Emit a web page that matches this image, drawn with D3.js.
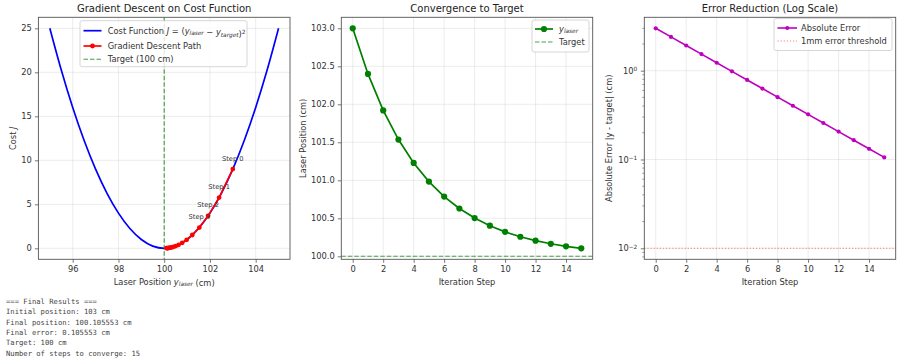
<!DOCTYPE html>
<html><head><meta charset="utf-8">
<script src="https://cdn.jsdelivr.net/npm/d3@7"></script>
<style>body{margin:0;background:#fff;} svg{display:block;font-family:"DejaVu Sans",sans-serif;}</style>
</head><body>
<svg id="c" width="900" height="360"></svg>
<script>
// ---------- data ----------
const steps = [0,1,2,3,4,5,6,7,8,9,10,11,12,13,14,15];
const positions = [103, 102.4, 101.92, 101.536, 101.2288, 100.98304, 100.786432, 100.629146, 100.503316, 100.402653, 100.322123, 100.257698, 100.206158, 100.164927, 100.131941, 100.105553];
const errors = [3, 2.4, 1.92, 1.536, 1.2288, 0.98304, 0.786432, 0.629146, 0.503316, 0.402653, 0.322123, 0.257698, 0.206158, 0.164927, 0.131941, 0.105553];
const pathCost = [9, 5.76, 3.6864, 2.359296, 1.50995, 0.966368, 0.618475, 0.395824, 0.253327, 0.16213, 0.103763, 0.066408, 0.042501, 0.027201, 0.017408, 0.011141];
const curveX = [95,95.5,96,96.5,97,97.5,98,98.5,99,99.5,100,100.5,101,101.5,102,102.5,103,103.5,104,104.5,105];
const curveJ = [25,20.25,16,12.25,9,6.25,4,2.25,1,0.25,0,0.25,1,2.25,4,6.25,9,12.25,16,20.25,25];
const target = 100;
const threshold = 0.01;
const annotatedSteps = [0,1,2,3];
const xTicks1 = [96,98,100,102,104];
const yTicks1 = [0,5,10,15,20,25];
const xTicksSteps = [0,2,4,6,8,10,12,14];
const yTicks2 = [100.0,100.5,101.0,101.5,102.0,102.5,103.0];
const yTicks3 = [0.01,0.1,1];
const titles = ["Gradient Descent on Cost Function","Convergence to Target","Error Reduction (Log Scale)"];
const resultLines = ["=== Final Results ===","Initial position: 103 cm","Final position: 100.105553 cm","Final error: 0.105553 cm","Target: 100 cm","Number of steps to converge: 15"];

// ---------- helpers ----------
const svg = d3.select('#c');
const panels = [
  {l:38.4, r:290, t:17.3, b:259.3},
  {l:341.3, r:592.7, t:17.3, b:259.3},
  {l:644.3, r:895.7, t:17.3, b:259.3}
];
const TXT = '#333', FS = 8.3;
function pad(ext, frac=0.05){const r=ext[1]-ext[0];return [ext[0]-r*frac, ext[1]+r*frac];}

function frame(i, x, y, xt, yt, yFmt, logY){
  const p = panels[i];
  const g = svg.append('g');
  svg.append('clipPath').attr('id','clip'+i).append('rect')
    .attr('x',p.l).attr('y',p.t).attr('width',p.r-p.l).attr('height',p.b-p.t);
  // grid
  g.selectAll('.gx').data(xt).join('line').attr('x1',d=>x(d)).attr('x2',d=>x(d))
    .attr('y1',p.t).attr('y2',p.b).attr('stroke','#b0b0b0').attr('stroke-opacity',0.3).attr('stroke-width',0.8);
  g.selectAll('.gy').data(yt).join('line').attr('y1',d=>y(d)).attr('y2',d=>y(d))
    .attr('x1',p.l).attr('x2',p.r).attr('stroke','#b0b0b0').attr('stroke-opacity',0.3).attr('stroke-width',0.8);
  // axes
  const ax = svg.append('g').attr('transform',`translate(0,${p.b})`)
    .call(d3.axisBottom(x).tickValues(xt).tickSize(3.5).tickPadding(3).tickFormat(d3.format('d')));
  const ay = svg.append('g').attr('transform',`translate(${p.l},0)`);
  if(!logY){
    ay.call(d3.axisLeft(y).tickValues(yt).tickSize(3.5).tickPadding(3).tickFormat(yFmt));
  } else {
    ay.call(d3.axisLeft(y).tickValues(yt).tickSize(3.5).tickPadding(3).tickFormat(''));
    ay.selectAll('.tick').each(function(d){
      const t = d3.select(this).append('text').attr('x',-7).attr('dy','0.32em')
        .attr('text-anchor','end').attr('fill',TXT).attr('font-size',FS);
      const e = Math.round(Math.log10(d));
      t.append('tspan').text('10');
      t.append('tspan').attr('dy','-0.45em').attr('font-size',FS*0.7).text(e<0?'\u2212'+(-e):String(e));
    });
    // minor ticks
    const minors=[];
    const dom = y.domain();
    for(let e=-3;e<=1;e++) for(let m=2;m<=9;m++){const v=m*Math.pow(10,e); if(v>=dom[0]&&v<=dom[1]) minors.push(v);}
    ay.selectAll('.minor').data(minors).join('line').attr('x1',0).attr('x2',-2)
      .attr('y1',d=>y(d)).attr('y2',d=>y(d)).attr('stroke','#555').attr('stroke-width',0.6);
  }
  [ax,ay].forEach(a=>{
    a.select('.domain').remove();
    a.selectAll('.tick line').attr('stroke','#555').attr('stroke-width',0.8);
    a.selectAll('text').attr('fill',TXT).attr('font-size',FS).attr('font-family','DejaVu Sans');
  });
  // spines
  svg.append('rect').attr('x',p.l).attr('y',p.t).attr('width',p.r-p.l).attr('height',p.b-p.t)
    .attr('fill','none').attr('stroke','#555').attr('stroke-width',0.9);
  // title
  svg.append('text').attr('x',(p.l+p.r)/2).attr('y',11.8).attr('text-anchor','middle')
    .attr('font-size',10).attr('fill','#222').text(titles[i]);
  return svg.append('g').attr('clip-path',`url(#clip${i})`);
}
function xlabel(i, build){
  const p=panels[i];
  const t=svg.append('text').attr('x',(p.l+p.r)/2).attr('y',285).attr('text-anchor','middle')
    .attr('font-size',FS).attr('fill',TXT);
  build(t);
}
function ylabel(i, xpos, build){
  const p=panels[i];
  const t=svg.append('text').attr('transform',`translate(${xpos},${(p.t+p.b)/2}) rotate(-90)`)
    .attr('text-anchor','middle').attr('font-size',FS).attr('fill',TXT);
  build(t);
}
function legendBox(x0,y0,w,h){
  svg.append('rect').attr('x',x0).attr('y',y0).attr('width',w).attr('height',h).attr('rx',2)
    .attr('fill','#fff').attr('fill-opacity',0.8).attr('stroke','#cccccc').attr('stroke-width',0.8);
}
const it = (t,s)=>t.append('tspan').attr('font-style','italic').text(s);
const sub = (t,s)=>{t.append('tspan').attr('font-style','italic').attr('font-size',FS*0.7).attr('dy','0.25em').text(s);t.append('tspan').attr('dy','-0.25em').text('');};

// ---------- panel 1 ----------
{
  const p=panels[0];
  const x=d3.scaleLinear().domain(pad(d3.extent(curveX))).range([p.l,p.r]);
  const y=d3.scaleLinear().domain(pad(d3.extent(curveJ))).range([p.b,p.t]);
  const g=frame(0,x,y,xTicks1,yTicks1,d3.format('d'));
  g.append('path').datum(curveX.map((v,i)=>[v,curveJ[i]]))
    .attr('d',d3.line().x(d=>x(d[0])).y(d=>y(d[1])).curve(d3.curveMonotoneX))
    .attr('fill','none').attr('stroke','#0000ff').attr('stroke-width',1.7);
  g.append('line').attr('x1',x(target)).attr('x2',x(target)).attr('y1',p.t).attr('y2',p.b)
    .attr('stroke','#008000').attr('stroke-opacity',0.75).attr('stroke-width',1.1).attr('stroke-dasharray','4.5,2');
  const pts=positions.map((v,i)=>[v,pathCost[i]]);
  g.append('path').datum(pts).attr('d',d3.line().x(d=>x(d[0])).y(d=>y(d[1])))
    .attr('fill','none').attr('stroke','#ff0000').attr('stroke-width',1.7);
  g.selectAll('.rp').data(pts).join('circle').attr('cx',d=>x(d[0])).attr('cy',d=>y(d[1])).attr('r',2.4).attr('fill','#ff0000');
  svg.selectAll('.ann').data(annotatedSteps).join('text')
    .attr('x',d=>x(positions[d])).attr('y',d=>y(pathCost[d])-8.5).attr('text-anchor','middle')
    .attr('font-size',6.7).attr('fill','#333').text(d=>'Step '+d);
  xlabel(0,t=>{t.append('tspan').text('Laser Position ');it(t,'y');sub(t,'laser');t.append('tspan').text(' (cm)');});
  ylabel(0,15.5,t=>{t.append('tspan').text('Cost ');it(t,'J');});
  // legend
  legendBox(80,20.7,167,46);
  const lx0=83.5,lx1=101.5,tx=107.7;
  const rows=[30.7,46,59.3];
  svg.append('line').attr('x1',lx0).attr('x2',lx1).attr('y1',rows[0]).attr('y2',rows[0]).attr('stroke','#0000ff').attr('stroke-width',1.7);
  svg.append('line').attr('x1',lx0).attr('x2',lx1).attr('y1',rows[1]).attr('y2',rows[1]).attr('stroke','#ff0000').attr('stroke-width',1.7);
  svg.append('circle').attr('cx',(lx0+lx1)/2).attr('cy',rows[1]).attr('r',2.4).attr('fill','#ff0000');
  svg.append('line').attr('x1',lx0).attr('x2',lx1).attr('y1',rows[2]).attr('y2',rows[2]).attr('stroke','#008000').attr('stroke-opacity',0.75).attr('stroke-width',1.1).attr('stroke-dasharray','4.5,2');
  const t0=svg.append('text').attr('x',tx).attr('y',rows[0]+3).attr('font-size',FS).attr('fill',TXT);
  t0.append('tspan').text('Cost Function ');it(t0,'J');t0.append('tspan').text(' = (');it(t0,'y');sub(t0,'laser');
  t0.append('tspan').text(' \u2212 ');it(t0,'y');sub(t0,'target');t0.append('tspan').text(')');
  t0.append('tspan').attr('font-size',FS*0.7).attr('dy','-0.5em').text('2');
  svg.append('text').attr('x',tx).attr('y',rows[1]+3).attr('font-size',FS).attr('fill',TXT).text('Gradient Descent Path');
  svg.append('text').attr('x',tx).attr('y',rows[2]+3).attr('font-size',FS).attr('fill',TXT).text('Target (100 cm)');
}

// ---------- panel 2 ----------
{
  const p=panels[1];
  const x=d3.scaleLinear().domain(pad(d3.extent(steps))).range([p.l,p.r]);
  const y=d3.scaleLinear().domain(pad(d3.extent(positions))).range([p.b,p.t]);
  const g=frame(1,x,y,xTicksSteps,yTicks2,d3.format('.1f'));
  g.append('line').attr('x1',p.l).attr('x2',p.r).attr('y1',y(target)).attr('y2',y(target))
    .attr('stroke','#008000').attr('stroke-opacity',0.7).attr('stroke-width',1.1).attr('stroke-dasharray','4.5,2');
  g.append('path').datum(steps.map((s,i)=>[s,positions[i]])).attr('d',d3.line().x(d=>x(d[0])).y(d=>y(d[1])))
    .attr('fill','none').attr('stroke','#008000').attr('stroke-width',1.7);
  g.selectAll('.gp').data(steps).join('circle').attr('cx',d=>x(d)).attr('cy',(d,i)=>y(positions[i])).attr('r',3.1).attr('fill','#008000');
  xlabel(1,t=>t.text('Iteration Step'));
  ylabel(1,306,t=>t.text('Laser Position (cm)'));
  legendBox(532,20,57,32);
  const lx0=535,lx1=553,tx=559;
  svg.append('line').attr('x1',lx0).attr('x2',lx1).attr('y1',29).attr('y2',29).attr('stroke','#008000').attr('stroke-width',1.7);
  svg.append('circle').attr('cx',(lx0+lx1)/2).attr('cy',29).attr('r',3.1).attr('fill','#008000');
  svg.append('line').attr('x1',lx0).attr('x2',lx1).attr('y1',42).attr('y2',42).attr('stroke','#008000').attr('stroke-opacity',0.7).attr('stroke-width',1.1).attr('stroke-dasharray','4.5,2');
  const t0=svg.append('text').attr('x',tx).attr('y',32).attr('font-size',FS).attr('fill',TXT);
  it(t0,'y');sub(t0,'laser');
  svg.append('text').attr('x',tx).attr('y',45).attr('font-size',FS).attr('fill',TXT).text('Target');
}

// ---------- panel 3 ----------
{
  const p=panels[2];
  const x=d3.scaleLinear().domain(pad(d3.extent(steps))).range([p.l,p.r]);
  const lext=d3.extent(errors.concat([threshold])).map(Math.log10);
  const ld=pad(lext);
  const y=d3.scaleLog().domain([Math.pow(10,ld[0]),Math.pow(10,ld[1])]).range([p.b,p.t]);
  const g=frame(2,x,y,xTicksSteps,yTicks3,null,true);
  g.append('line').attr('x1',p.l).attr('x2',p.r).attr('y1',y(threshold)).attr('y2',y(threshold))
    .attr('stroke','#ff0000').attr('stroke-opacity',0.5).attr('stroke-width',1.1).attr('stroke-dasharray','1.2,1.9');
  g.append('path').datum(steps.map((s,i)=>[s,errors[i]])).attr('d',d3.line().x(d=>x(d[0])).y(d=>y(d[1])))
    .attr('fill','none').attr('stroke','#bf00bf').attr('stroke-width',1.6);
  g.selectAll('.mp').data(steps).join('circle').attr('cx',d=>x(d)).attr('cy',(d,i)=>y(errors[i])).attr('r',2.1).attr('fill','#bf00bf');
  xlabel(2,t=>t.text('Iteration Step'));
  ylabel(2,612,t=>t.text('Absolute Error |y - target| (cm)'));
  legendBox(774,18.5,118,32);
  const lx0=777.5,lx1=797,tx=801;
  svg.append('line').attr('x1',lx0).attr('x2',lx1).attr('y1',28).attr('y2',28).attr('stroke','#bf00bf').attr('stroke-width',1.6);
  svg.append('circle').attr('cx',(lx0+lx1)/2).attr('cy',28).attr('r',2.1).attr('fill','#bf00bf');
  svg.append('line').attr('x1',lx0).attr('x2',lx1).attr('y1',41).attr('y2',41).attr('stroke','#ff0000').attr('stroke-opacity',0.5).attr('stroke-width',1.1).attr('stroke-dasharray','1.2,1.9');
  svg.append('text').attr('x',tx).attr('y',31).attr('font-size',FS).attr('fill',TXT).text('Absolute Error');
  svg.append('text').attr('x',tx).attr('y',44).attr('font-size',FS).attr('fill',TXT).text('1mm error threshold');
}

// ---------- printed results ----------
svg.selectAll('.res').data(resultLines).join('text')
  .attr('x',6).attr('y',(d,i)=>303.8+i*10.4).attr('font-family','"DejaVu Sans Mono",monospace')
  .attr('font-size',7.2).attr('fill','#444').style('white-space','pre').text(d=>d);
</script>
</body></html>
